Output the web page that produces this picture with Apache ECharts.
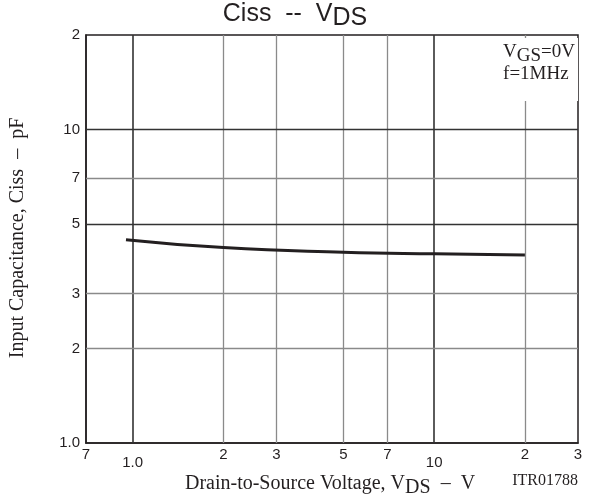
<!DOCTYPE html>
<html>
<head>
<meta charset="utf-8">
<script src="https://cdn.jsdelivr.net/npm/echarts@6/dist/echarts.min.js"></script>
<style>
  html, body { margin: 0; padding: 0; background: #fff; }
  #main { width: 590px; height: 497px; }
</style>
</head>
<body>
<div id="main"></div>
<script>
    // curve
    var vds = [0.95, 2, 5, 10, 20];
    var ciss = [4.45, 4.2, 4.06, 4.01, 3.98];

    // tick labels
    var xTicksUpper = [0.7, 2, 3, 5, 7, 20, 30];
    var xTicksLower = [1, 10];
    var xLabelText = {0.7: '7', 1: '1.0', 2: '2', 3: '3', 5: '5', 7: '7', 10: '10', 20: '2', 30: '3'};
    var yTicks = [1, 2, 3, 5, 7, 10, 20];
    var yLabelText = {1: '1.0', 2: '2', 3: '3', 5: '5', 7: '7', 10: '10', 20: '2'};

    // grid lines
    var xGridMajor = [1, 10];
    var xGridMinor = [2, 3, 5, 7, 20];
    var yGridMajor = [10, 5];
    var yGridMinor = [2, 3, 7];

    var dark = '#231f20';
    var sansFont = '"Liberation Sans", Arial, sans-serif';
    var serifFont = '"Liberation Serif", "Times New Roman", serif';

    var gridLines = [];
    xGridMajor.forEach(function (v) { gridLines.push({xAxis: v, lineStyle: {color: '#333', width: 1.6, type: 'solid'}}); });
    xGridMinor.forEach(function (v) { gridLines.push({xAxis: v, lineStyle: {color: '#8a8a8a', width: 1.3, type: 'solid'}}); });
    yGridMajor.forEach(function (v) { gridLines.push({yAxis: v, lineStyle: {color: '#333', width: 1.4, type: 'solid'}}); });
    yGridMinor.forEach(function (v) { gridLines.push({yAxis: v, lineStyle: {color: '#8a8a8a', width: 1.3, type: 'solid'}}); });

    var curve = [];
    for (var i = 0; i < vds.length; i++) {
        curve.push([vds[i], ciss[i]]);
    }

    var myChart = echarts.init(document.getElementById('main'), null, {renderer: 'canvas'});

    function xFmt(v) { return xLabelText[Math.round(v * 10) / 10] || ''; }

    var option = {
        animation: false,
        backgroundColor: '#fff',
        grid: {
            left: 86, right: 12, top: 35, bottom: 54,
            show: true, borderColor: dark, borderWidth: 1.5, backgroundColor: 'transparent'
        },
        xAxis: [{
            type: 'log', logBase: 10, min: 0.7, max: 30,
            axisLine: {show: true, lineStyle: {color: dark, width: 1.5}},
            axisTick: {show: false},
            splitLine: {show: false},
            axisLabel: {customValues: xTicksUpper, margin: 4, color: dark, fontSize: 15, fontFamily: sansFont, formatter: xFmt}
        }, {
            type: 'log', logBase: 10, min: 0.7, max: 30, position: 'bottom', gridIndex: 0,
            axisLine: {show: false},
            axisTick: {show: false},
            splitLine: {show: false},
            axisLabel: {customValues: xTicksLower, margin: 12, color: dark, fontSize: 15, fontFamily: sansFont, formatter: xFmt}
        }],
        yAxis: {
            type: 'log', logBase: 10, min: 1, max: 20,
            axisLine: {show: true, lineStyle: {color: dark, width: 1.5}},
            axisTick: {show: false},
            splitLine: {show: false},
            axisLabel: {
                customValues: yTicks, margin: 6, color: dark, fontSize: 15, fontFamily: sansFont,
                formatter: function (v) { return yLabelText[Math.round(v)] || ''; }
            }
        },
        series: [{
            type: 'line',
            data: curve,
            smooth: 0.5,
            showSymbol: false,
            z: 5,
            lineStyle: {color: dark, width: 3},
            markLine: {
                silent: true,
                symbol: 'none',
                label: {show: false},
                z: 1,
                data: gridLines
            }
        }],
        graphic: [{
            type: 'text',
            left: 'center', top: 2,
            style: {
                text: 'Ciss  --  V{sub|DS}',
                font: '25px ' + sansFont,
                fill: dark,
                rich: {sub: {fontSize: 25, fontFamily: sansFont, padding: [8, 0, 0, 0]}}
            },
            z: 10
        }, {
            type: 'text',
            right: 12, top: 38,
            style: {
                text: 'V{sub|GS}=0V\nf=1MHz',
                font: '19px ' + serifFont,
                fill: dark,
                align: 'right',
                lineHeight: 22,
                backgroundColor: '#fff',
                padding: [3, 3, 16, 4],
                rich: {sub: {fontSize: 19, fontFamily: serifFont, padding: [8, 0, 0, 0]}}
            },
            z: 10
        }, {
            type: 'text',
            x: 8, y: 238,
            rotation: Math.PI / 2,
            style: {
                text: 'Input Capacitance, Ciss  \u2013  pF',
                font: '20px ' + serifFont,
                fill: dark,
                align: 'center',
                verticalAlign: 'top'
            },
            z: 10
        }, {
            type: 'text',
            x: 330, y: 470,
            style: {
                text: 'Drain-to-Source Voltage, V{sub|DS}  \u2013  V',
                font: '20px ' + serifFont,
                fill: dark,
                align: 'center',
                verticalAlign: 'top',
                rich: {sub: {fontSize: 20, fontFamily: serifFont, padding: [8, 0, 0, 0]}}
            },
            z: 10
        }, {
            type: 'text',
            right: 12, top: 473,
            style: {
                text: 'ITR01788',
                font: '16px ' + serifFont,
                fill: dark
            },
            z: 10
        }]
    };

    myChart.setOption(option);
</script>
</body>
</html>
